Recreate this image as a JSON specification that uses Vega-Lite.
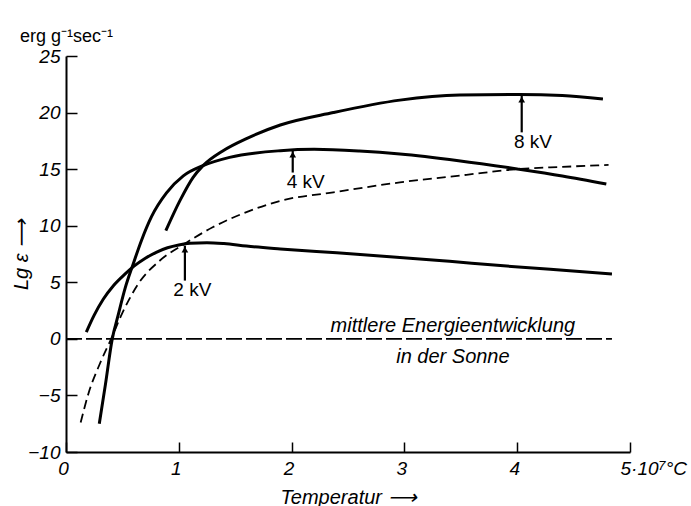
{
  "$schema": "https://vega.github.io/schema/vega-lite/v6.json",
  "width": 564,
  "height": 396,
  "autosize": {"type": "none"},
  "padding": {"left": 66, "top": 56, "right": 61, "bottom": 54},
  "background": "white",
  "config": {
    "view": {"stroke": null},
    "font": "Liberation Sans",
    "axis": {"grid": false, "domainColor": "black", "tickColor": "black", "labelColor": "black", "titleColor": "black"}
  },
  "title": {
    "text": "erg g⁻¹sec⁻¹",
    "anchor": "start",
    "frame": "group",
    "dx": -46,
    "offset": 1,
    "font": "Liberation Sans",
    "fontSize": 18,
    "fontWeight": "normal",
    "color": "black"
  },
  "datasets": {
    "curves": [
      {"series": "2kV", "x": 0.18, "y": 0.6},
      {"series": "2kV", "x": 0.25, "y": 2.1},
      {"series": "2kV", "x": 0.33, "y": 3.5},
      {"series": "2kV", "x": 0.42, "y": 4.7},
      {"series": "2kV", "x": 0.52, "y": 5.7},
      {"series": "2kV", "x": 0.6, "y": 6.4},
      {"series": "2kV", "x": 0.7, "y": 7.1},
      {"series": "2kV", "x": 0.8, "y": 7.65},
      {"series": "2kV", "x": 0.9, "y": 8.05},
      {"series": "2kV", "x": 1.0, "y": 8.3},
      {"series": "2kV", "x": 1.1, "y": 8.45},
      {"series": "2kV", "x": 1.25, "y": 8.5},
      {"series": "2kV", "x": 1.4, "y": 8.42},
      {"series": "2kV", "x": 1.6, "y": 8.2},
      {"series": "2kV", "x": 1.9, "y": 7.95},
      {"series": "2kV", "x": 2.4, "y": 7.6},
      {"series": "2kV", "x": 2.96, "y": 7.2},
      {"series": "2kV", "x": 3.4, "y": 6.85},
      {"series": "2kV", "x": 3.85, "y": 6.48},
      {"series": "2kV", "x": 4.35, "y": 6.1},
      {"series": "2kV", "x": 4.84, "y": 5.74},
      {"series": "4kV", "x": 0.295, "y": -7.5},
      {"series": "4kV", "x": 0.35, "y": -4.0},
      {"series": "4kV", "x": 0.41, "y": 0},
      {"series": "4kV", "x": 0.46, "y": 2.0},
      {"series": "4kV", "x": 0.525, "y": 4.5},
      {"series": "4kV", "x": 0.595, "y": 6.6},
      {"series": "4kV", "x": 0.669, "y": 8.7},
      {"series": "4kV", "x": 0.758, "y": 10.8},
      {"series": "4kV", "x": 0.891, "y": 12.9},
      {"series": "4kV", "x": 1.04, "y": 14.4},
      {"series": "4kV", "x": 1.215, "y": 15.31},
      {"series": "4kV", "x": 1.45, "y": 16.04},
      {"series": "4kV", "x": 1.9, "y": 16.63},
      {"series": "4kV", "x": 2.2, "y": 16.75},
      {"series": "4kV", "x": 2.6, "y": 16.6},
      {"series": "4kV", "x": 2.96, "y": 16.34},
      {"series": "4kV", "x": 3.48, "y": 15.75},
      {"series": "4kV", "x": 4.0, "y": 15.02},
      {"series": "4kV", "x": 4.4, "y": 14.4},
      {"series": "4kV", "x": 4.79, "y": 13.69},
      {"series": "8kV", "x": 0.885, "y": 9.57},
      {"series": "8kV", "x": 1.01, "y": 12.22},
      {"series": "8kV", "x": 1.127, "y": 14.28},
      {"series": "8kV", "x": 1.215, "y": 15.31},
      {"series": "8kV", "x": 1.393, "y": 16.63},
      {"series": "8kV", "x": 1.6, "y": 17.7},
      {"series": "8kV", "x": 1.9, "y": 18.9},
      {"series": "8kV", "x": 2.37, "y": 20.0},
      {"series": "8kV", "x": 2.96, "y": 21.1},
      {"series": "8kV", "x": 3.49, "y": 21.55},
      {"series": "8kV", "x": 4.02, "y": 21.6},
      {"series": "8kV", "x": 4.4, "y": 21.5},
      {"series": "8kV", "x": 4.76, "y": 21.2}
    ],
    "dashed": [
      {"x": 0.13, "y": -7.4},
      {"x": 0.2, "y": -4.8},
      {"x": 0.3, "y": -2.2},
      {"x": 0.4, "y": 0},
      {"x": 0.5, "y": 2.3},
      {"x": 0.65, "y": 5.0},
      {"x": 0.83, "y": 6.9},
      {"x": 1.05, "y": 8.39},
      {"x": 1.3, "y": 9.86},
      {"x": 1.6, "y": 11.2},
      {"x": 1.9, "y": 12.2},
      {"x": 2.37, "y": 12.95},
      {"x": 2.96, "y": 13.83},
      {"x": 3.55, "y": 14.5},
      {"x": 4.0, "y": 15.0},
      {"x": 4.4, "y": 15.2},
      {"x": 4.81, "y": 15.37}
    ],
    "zero": [{"x": 0, "x2": 4.84, "y": 0}],
    "arrows": [
      {"label": "2 kV", "x": 1.054, "tip": 8.24, "tail": 5.15, "lx": 1.12, "ly": 4.35},
      {"label": "4 kV", "x": 2.01, "tip": 16.63, "tail": 14.7, "lx": 2.125, "ly": 13.83},
      {"label": "8 kV", "x": 4.04, "tip": 21.5, "tail": 18.25, "lx": 4.14, "ly": 17.4}
    ],
    "notes": [
      {"text": "mittlere Energieentwicklung", "x": 3.43, "y": 1.17},
      {"text": "in der Sonne", "x": 3.43, "y": -1.57}
    ]
  },
  "layer": [
    {
      "data": {"name": "curves"},
      "mark": {"type": "line", "color": "black", "strokeWidth": 3, "interpolate": "monotone", "strokeCap": "butt"},
      "encoding": {
        "x": {
          "field": "x", "type": "quantitative",
          "scale": {"domain": [0, 5], "nice": false, "zero": false},
          "axis": {
            "values": [0, 1, 2, 3, 4, 5],
            "format": "d",
            "tickSize": -10,
            "tickWidth": 1.5,
            "domainWidth": 2,
            "labelPadding": 17,
            "labelFont": "Liberation Sans",
            "labelFontSize": 19,
            "labelFontStyle": "italic",
            "labelBaseline": "top",
            "labelExpr": "datum.value == 5 ? '5·10⁷°C' : datum.label",
            "labelAlign": {"condition": {"test": "datum.value == 5", "value": "left"}, "value": "center"},
            "labelOffset": {"condition": {"test": "datum.value == 5", "value": -10}, "value": -3},
            "labelFlush": false,
            "labelOverlap": false,
            "title": "Temperatur ⟶",
            "titleFont": "Liberation Sans",
            "titleFontSize": 20,
            "titleFontStyle": "italic",
            "titleFontWeight": "normal",
            "titlePadding": 9
          }
        },
        "y": {
          "field": "y", "type": "quantitative",
          "scale": {"domain": [-10, 25], "nice": false, "zero": false},
          "axis": {
            "values": [-10, -5, 0, 5, 10, 15, 20, 25],
            "format": "d",
            "tickSize": -11,
            "tickWidth": 1.5,
            "domainWidth": 2,
            "labelPadding": 17,
            "labelFont": "Liberation Sans",
            "labelFontSize": 19,
            "labelFontStyle": "italic",
            "labelFlush": false,
            "labelOverlap": false,
            "title": "Lg ε ⟶",
            "titleFont": "Liberation Sans",
            "titleFontSize": 20,
            "titleFontStyle": "italic",
            "titleFontWeight": "normal",
            "titlePadding": -4
          }
        },
        "detail": {"field": "series"}
      }
    },
    {
      "data": {"name": "dashed"},
      "mark": {"type": "line", "color": "black", "strokeWidth": 1.8, "strokeDash": [9, 5], "interpolate": "monotone"},
      "encoding": {
        "x": {"field": "x", "type": "quantitative"},
        "y": {"field": "y", "type": "quantitative"}
      }
    },
    {
      "data": {"name": "zero"},
      "mark": {"type": "rule", "color": "black", "strokeWidth": 1.6, "strokeDash": [16, 4]},
      "encoding": {
        "x": {"field": "x", "type": "quantitative"},
        "x2": {"field": "x2"},
        "y": {"field": "y", "type": "quantitative"}
      }
    },
    {
      "data": {"name": "arrows"},
      "mark": {"type": "rule", "color": "black", "strokeWidth": 2.2},
      "encoding": {
        "x": {"field": "x", "type": "quantitative"},
        "y": {"field": "tail", "type": "quantitative"},
        "y2": {"field": "tip"}
      }
    },
    {
      "data": {"name": "arrows"},
      "mark": {"type": "point", "shape": "triangle-up", "filled": true, "color": "black", "opacity": 1, "size": 45, "yOffset": 4},
      "encoding": {
        "x": {"field": "x", "type": "quantitative"},
        "y": {"field": "tip", "type": "quantitative"}
      }
    },
    {
      "data": {"name": "arrows"},
      "mark": {"type": "text", "font": "Liberation Sans", "fontSize": 19, "color": "black", "align": "center", "baseline": "middle"},
      "encoding": {
        "x": {"field": "lx", "type": "quantitative"},
        "y": {"field": "ly", "type": "quantitative"},
        "text": {"field": "label"}
      }
    },
    {
      "data": {"name": "notes"},
      "mark": {"type": "text", "font": "Liberation Sans", "fontSize": 20, "fontStyle": "italic", "color": "black", "align": "center", "baseline": "middle"},
      "encoding": {
        "x": {"field": "x", "type": "quantitative"},
        "y": {"field": "y", "type": "quantitative"},
        "text": {"field": "text"}
      }
    }
  ]
}
